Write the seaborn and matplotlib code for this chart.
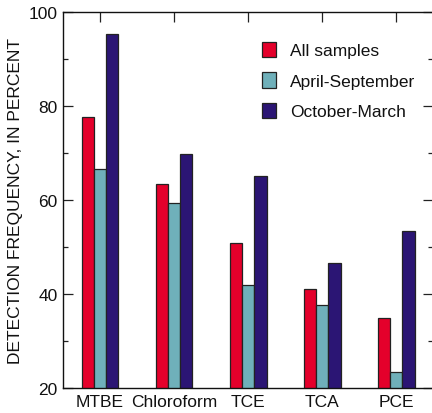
import matplotlib
matplotlib.use("Agg")
import matplotlib.pyplot as plt
from matplotlib.patches import Patch
from matplotlib.ticker import MultipleLocator
import seaborn as sns
import pandas as pd

compounds = ["MTBE", "Chloroform", "TCE", "TCA", "PCE"]
seasons = ["All samples", "April-September", "October-March"]
all_samples = [77.7, 63.4, 50.9, 41.1, 34.8]
april_september = [66.7, 59.4, 42.0, 37.7, 23.3]
october_march = [95.3, 69.8, 65.1, 46.5, 53.5]
y_ticks = [20, 40, 60, 80, 100]

colors = ["#E4002B", "#6FB0BA", "#2B1574"]

df = pd.DataFrame({
    "compound": compounds * 3,
    "season": [s for s in seasons for _ in compounds],
    "freq": all_samples + april_september + october_march,
})

sns.set_theme(style="white")
plt.rcParams["font.family"] = ["Liberation Sans", "DejaVu Sans"]
plt.rcParams["text.color"] = "#111111"
plt.rcParams["axes.labelcolor"] = "#111111"
plt.rcParams["xtick.labelcolor"] = "#111111"
plt.rcParams["ytick.labelcolor"] = "#111111"

fig = plt.figure(figsize=(4.32, 4.14), dpi=100)
ax = fig.add_axes([63 / 432, 1 - 389 / 414, 370 / 432, 376 / 414])

sns.barplot(data=df, x="compound", y="freq", hue="season", order=compounds,
            hue_order=seasons, palette=colors, width=0.5, gap=0,
            edgecolor="#222222", linewidth=0.9, saturation=1, ax=ax,
            legend=False)

ax.set_xlim(-0.5, 4.5)
ax.set_ylim(20, 100)
ax.set_yticks(y_ticks)
ax.yaxis.set_minor_locator(MultipleLocator(10))
ax.set_xlabel("")
ax.set_ylabel("DETECTION FREQUENCY, IN PERCENT", fontsize=12.5, labelpad=4)

ax.tick_params(axis="x", which="major", direction="in", top=True, bottom=True,
               length=7, width=0.9, color="#222222", labelsize=12.5, pad=4)
ax.tick_params(axis="y", which="major", direction="in", left=True, right=True,
               length=7, width=0.9, color="#222222", labelsize=12.5, pad=4)
ax.tick_params(axis="y", which="minor", direction="in", left=True, right=True,
               length=3.5, width=0.9, color="#222222")

for side in ["left", "bottom", "top", "right"]:
    ax.spines[side].set_color("#111111")
    ax.spines[side].set_linewidth(1.0)

handles = [Patch(facecolor=c, edgecolor="#222222", linewidth=0.9) for c in colors]
ax.legend(handles, seasons, loc="upper left", bbox_to_anchor=(0.52, 0.94),
          frameon=False, fontsize=12.5, handlelength=0.8, handleheight=1.0,
          handletextpad=0.8, labelspacing=0.8, borderaxespad=0)

fig.savefig("out.png", dpi=100)
